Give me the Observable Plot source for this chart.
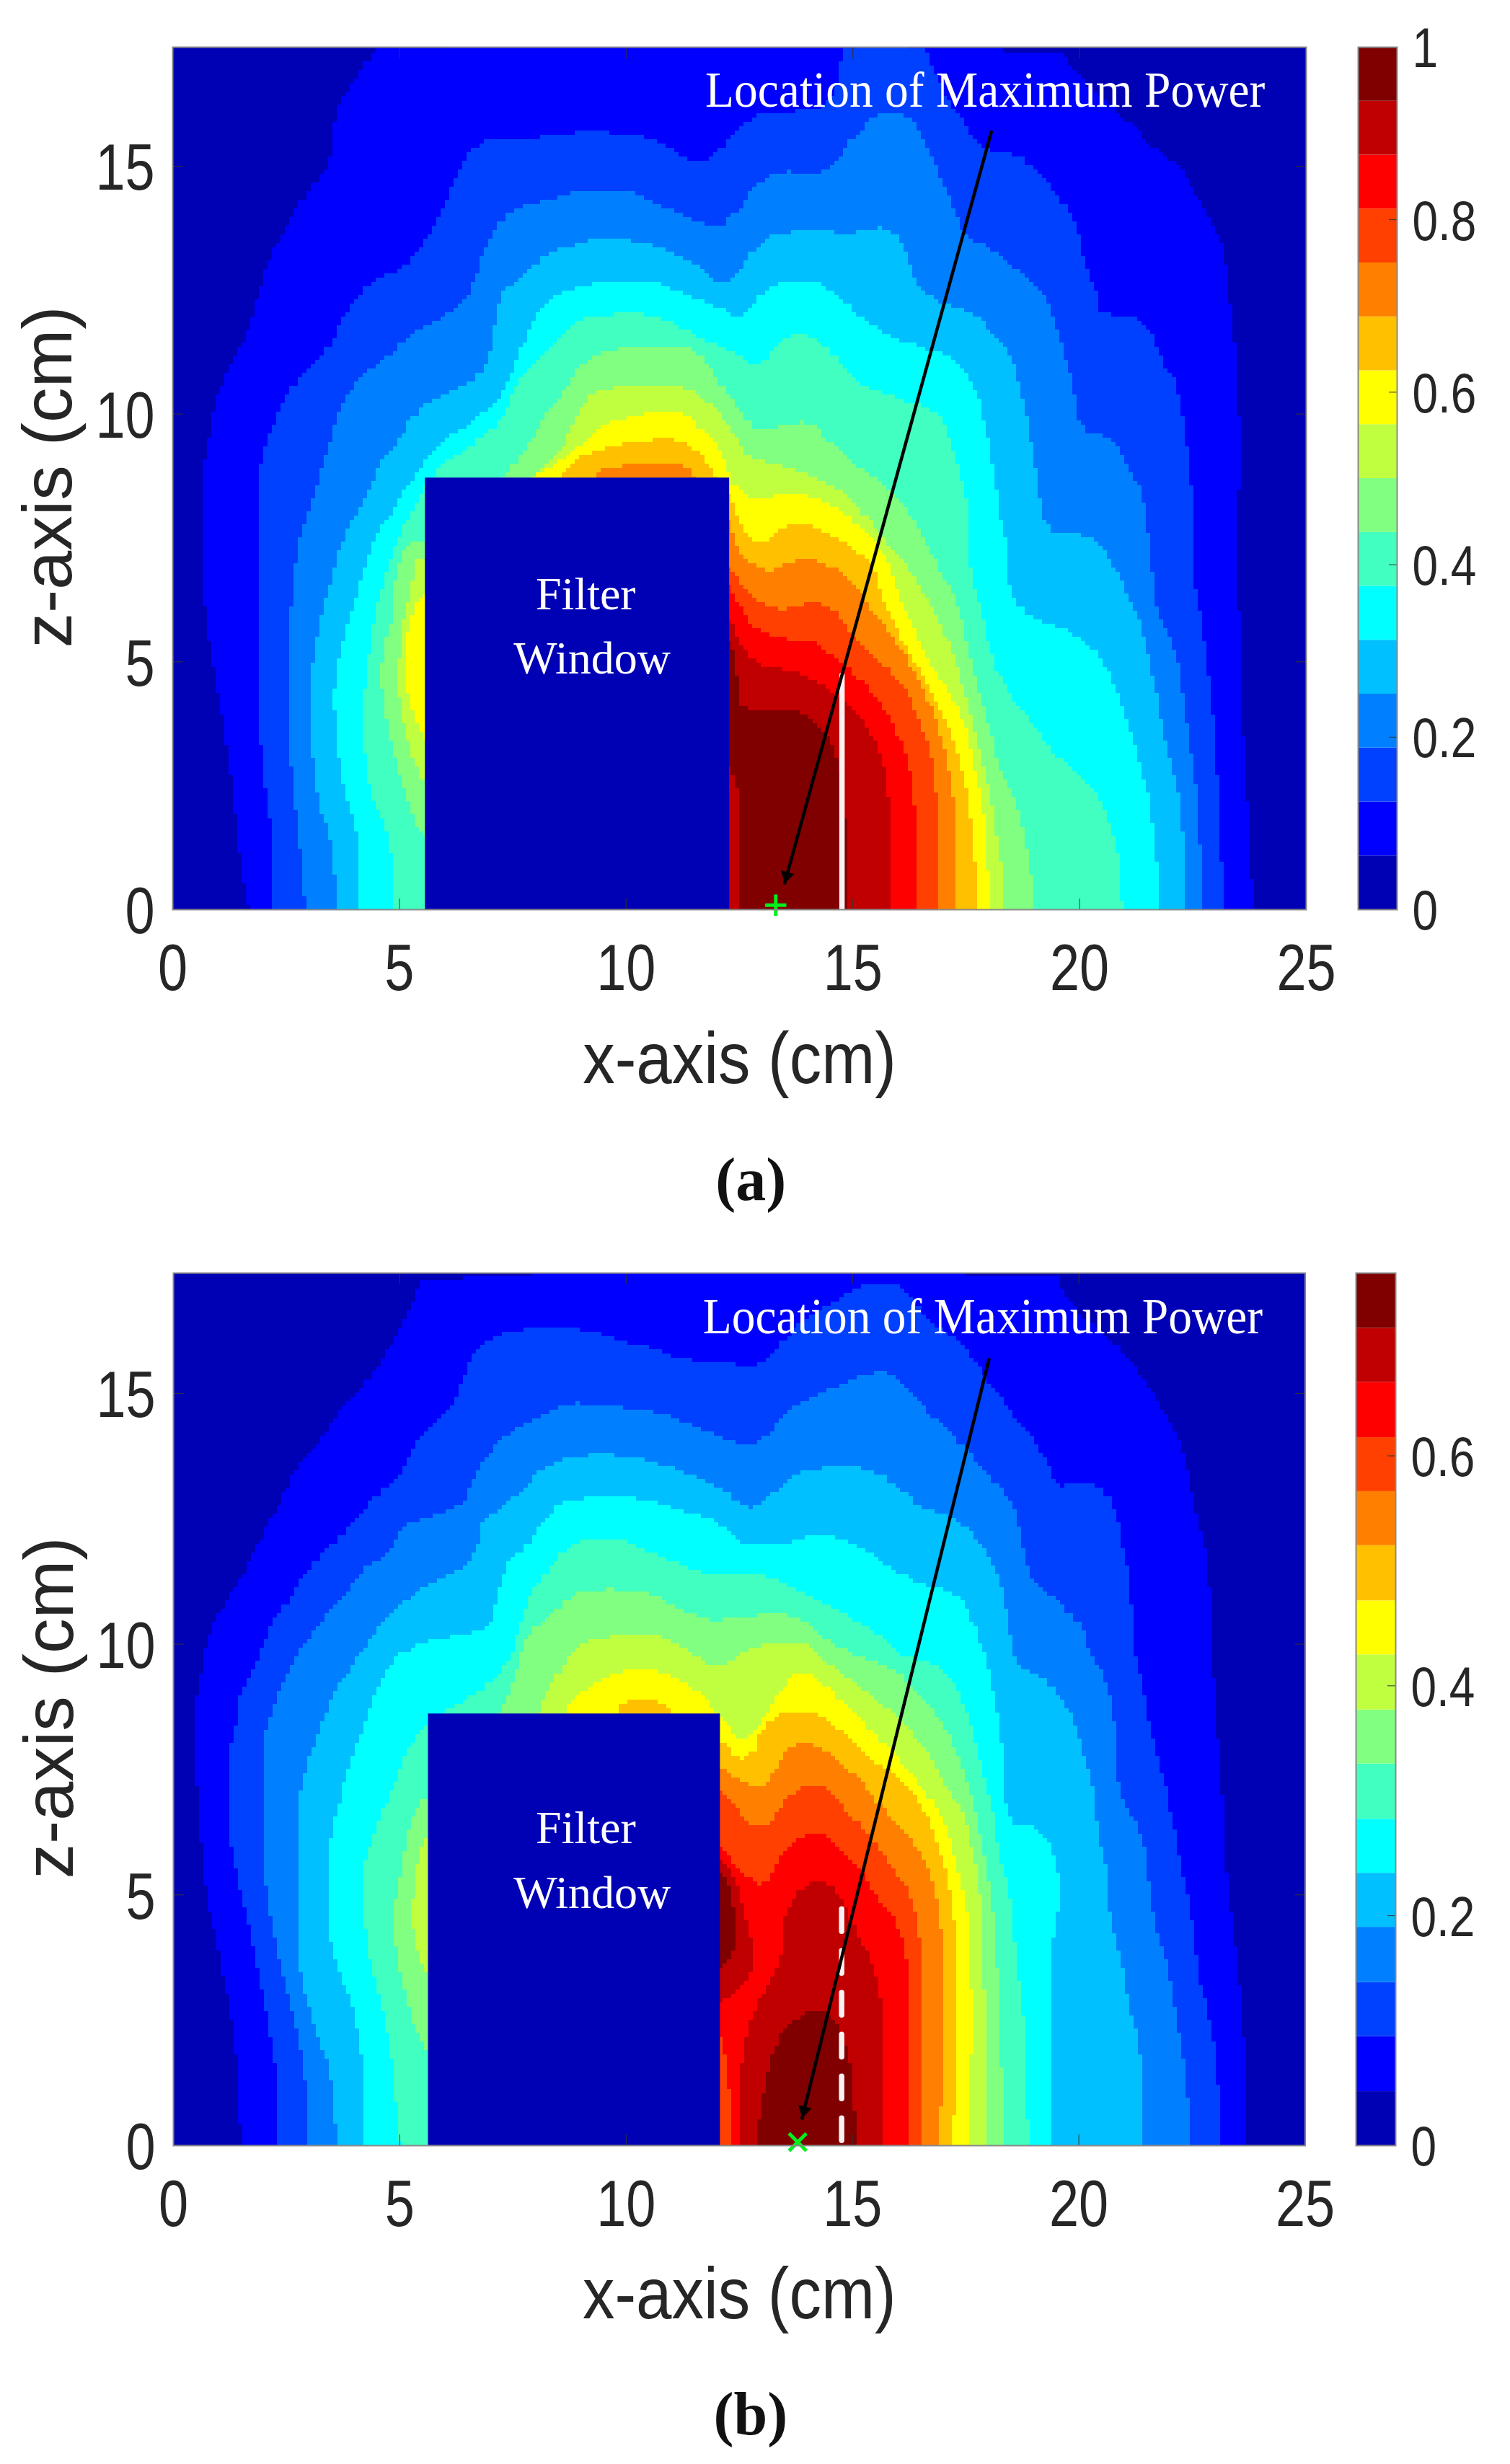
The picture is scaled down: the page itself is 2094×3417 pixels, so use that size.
<!DOCTYPE html>
<html><head><meta charset="utf-8">
<script src="https://cdn.jsdelivr.net/npm/d3@7"></script>
<script src="https://cdn.jsdelivr.net/npm/@observablehq/plot@0.6"></script>
<style>
html,body{margin:0;padding:0;background:#fff}
#page{position:relative;width:2094px;height:3417px;overflow:hidden;background:#fff}
#page svg{position:absolute;max-width:none}
</style></head><body><div id="page"></div>
<script>
const bandColors=["#0000ff","#0040ff","#0080ff","#00c0ff","#00ffff","#40ffc0","#80ff80","#c0ff40","#ffff00","#ffc000","#ff8000","#ff4000","#ff0000","#c00000","#800000"];
const darkBlue="#0000b4";
const xTicks=[0,5,10,15,20,25];
const zTicks=[0,5,10,15];
const barEdgesA=[0,.0625,.125,.1875,.25,.3125,.375,.4375,.5,.5625,.625,.6875,.75,.8125,.875,.9375,1];
const barEdgesB=[0,.047,.095,.142,.19,.237,.284,.332,.379,.427,.474,.522,.569,.616,.664,.711,.759];
const barTicksA=[0,.2,.4,.6,.8,1];
const barTicksB=[0,.2,.4,.6];
const windowA=[5.57,12.28,8.71];
const windowB=[5.63,12.08,8.61];
const arrowA=[18.06,15.71,13.49,.51], headA=[13.54,.68,195.4], slitA=[14.76,4.73], markA=[13.3,.09];
const arrowB=[18.02,15.7,13.88,.52], headB=[13.93,.7,193.8], slitB=[14.76,4.72], markB=[13.79,.07];

// Panel (a): contour outlines [x cm, z cm], one per colour level
const a1=[[1.68,0],[1.52,.65],[1.31,2.6],[.99,4.45],[.72,5.84],[.65,7.24],[.65,8.69],[.76,9.21],[.94,10.18],[1.26,10.92],[1.68,11.66],[1.9,12.4],[2.16,13.15],[2.59,13.89],[2.96,14.41],[3.49,15],[3.6,16.11],[3.97,16.63],[4.4,17.23],[4.72,17.45],[19.54,17.45],[20.09,16.71],[20.98,16.04],[21.76,15.26],[22.26,15],[22.64,14.33],[22.98,13.81],[23.2,13.3],[23.31,12.4],[23.42,11.66],[23.53,10.18],[23.53,8.69],[23.51,8.16],[23.53,4.45],[23.7,2.6],[23.84,0]];
const a2=[[2.19,0],[2.19,1.48],[2.03,2.6],[1.9,3.8],[1.87,5.38],[1.87,8.16],[1.95,9.06],[2.48,10.4],[3.12,10.92],[3.55,11.44],[3.76,11.88],[4.19,12.48],[4.61,12.77],[4.98,12.81],[5.57,13.44],[5.78,13.81],[6.16,14.48],[6.37,15],[6.74,15.45],[7.06,15.53],[7.91,15.56],[8.44,15.61],[9.3,15.71],[9.94,15.63],[10.47,15.6],[11,15.37],[11.43,15.07],[11.8,15.07],[12.39,15.6],[12.88,16.04],[13.54,16.08],[14.54,16.19],[14.71,16.93],[14.82,17.45],[16.6,17.45],[16.82,16.93],[17.09,16.34],[17.32,16.11],[17.7,15.52],[18.09,15.3],[18.65,15.22],[19.09,14.93],[19.43,14.56],[19.65,14.26],[19.87,13.96],[20.04,13.52],[20.15,13],[20.42,12.4],[20.42,12.03],[21.31,11.96],[21.64,11.66],[21.81,11.07],[22.09,10.77],[22.26,10.18],[22.37,9.43],[22.48,8.69],[22.53,6.7],[22.64,6.2],[22.87,4.73],[23.03,3.06],[23.09,1.67],[23.23,0]];
const a3=[[2.93,0],[2.8,1.39],[2.64,2.6],[2.59,3.34],[2.59,5.38],[2.64,6.31],[2.75,7.24],[2.85,7.58],[3.17,8.47],[3.44,9.29],[3.65,9.95],[4.08,10.7],[4.61,11.03],[5.14,11.44],[5.68,11.81],[6.47,12.22],[6.74,12.85],[6.95,13.44],[7.27,13.89],[7.65,14.15],[8.23,14.3],[8.76,14.44],[9.3,14.52],[10.15,14.52],[10.79,14.18],[11.43,13.96],[11.85,13.8],[12.28,13.81],[12.88,14.63],[13.54,14.93],[13.99,14.79],[14.65,14.96],[14.93,15.45],[15.43,15.97],[15.87,16.11],[16.37,15.97],[16.65,15.37],[16.98,14.78],[17.32,13.96],[17.54,13.59],[18.15,13.29],[18.65,12.92],[19.2,12.48],[19.43,12.03],[19.65,11.29],[19.87,10.62],[20.04,9.66],[20.76,9.51],[21.03,9.06],[21.37,8.54],[21.53,7.58],[21.64,6.7],[21.76,5.84],[22.14,5.29],[22.42,3.53],[22.64,2.13],[22.7,0]];
const a4=[[3.62,0],[3.55,1.11],[3.23,2.13],[3.01,3.53],[3.01,4.45],[3.23,5.66],[3.55,6.77],[3.81,7.58],[4.29,8.32],[4.61,8.99],[5.04,9.51],[5.3,9.95],[6,10.4],[6.74,10.7],[7.01,11.1],[7.11,11.74],[7.27,12.48],[7.59,12.63],[8.13,13.11],[8.44,13.29],[9.3,13.53],[10.04,13.52],[10.79,13.37],[11.43,13.07],[11.85,12.85],[12.17,12.55],[12.49,12.81],[12.88,13.37],[13.54,13.7],[14.43,13.66],[15.32,13.66],[15.71,13.78],[16.1,13.52],[16.37,12.7],[16.76,12.33],[17.04,12.22],[17.76,12.03],[18.09,11.59],[18.48,11.29],[18.65,10.7],[18.87,9.95],[19.04,8.84],[19.26,7.58],[20.09,7.58],[20.54,7.36],[20.98,6.59],[21.37,5.75],[21.64,4.73],[21.87,3.53],[22.26,2.13],[22.37,0]];
const a5=[[4.15,0],[4.13,1.39],[3.71,2.6],[3.6,3.71],[3.55,4.45],[3.76,5.38],[4.13,6.49],[4.4,7.33],[4.56,7.58],[5.04,8.32],[5.84,9.36],[6.42,9.69],[7.17,10.18],[7.49,10.77],[7.7,11.29],[8.02,11.96],[8.23,12.18],[8.66,12.48],[9.4,12.63],[9.94,12.7],[10.58,12.69],[11.32,12.4],[12.07,12.18],[12.55,11.88],[12.88,12.26],[13.32,12.63],[13.76,12.7],[14.21,12.69],[14.71,12.4],[15.1,12.03],[15.76,11.59],[16.48,11.36],[17.09,11.2],[17.43,10.92],[17.76,10.47],[17.93,9.81],[18.09,9.06],[18.26,7.95],[18.43,7.36],[18.48,6.21],[19.2,5.84],[19.98,5.52],[20.42,5.19],[20.76,4.64],[20.98,4.08],[21.26,3.25],[21.59,2.13],[21.81,0]];
const a6=[[4.88,0],[4.82,1.39],[4.29,2.41],[4.19,3.99],[4.4,5.57],[4.66,6.59],[4.88,7.24],[5.14,7.79],[5.94,8.99],[6.42,9.21],[7.27,9.81],[7.49,10.33],[7.81,10.84],[8.23,11.22],[8.92,11.88],[9.62,12],[10.58,12.03],[11.11,11.81],[11.74,11.51],[12.49,11.22],[12.88,10.88],[13.32,11.29],[13.54,11.55],[14.1,11.62],[14.49,11.29],[14.87,10.92],[15.21,10.58],[15.87,10.36],[16.37,10.21],[16.87,10.07],[17.15,9.58],[17.43,8.69],[17.59,7.95],[17.59,6.77],[17.87,6.03],[18.09,5.01],[18.54,4.27],[18.98,3.8],[19.65,2.97],[20.31,2.5],[20.65,1.86],[20.92,.93],[20.95,0]];
const a7=[[6,0],[6,1.44],[5.57,1.44],[5.36,1.67],[5.15,2.23],[4.99,2.78],[4.77,3.53],[4.61,4.45],[4.61,5],[4.88,5.94],[4.93,6.86],[5.25,7.42],[5.57,7.42],[6,7.42],[7.2,8.5],[7.33,8.71],[7.49,8.92],[7.91,9.36],[8.23,9.95],[8.66,10.47],[8.98,10.92],[9.72,11.36],[11.32,11.36],[11.74,11.14],[12.1,10.62],[12.65,9.95],[12.88,9.7],[13.32,9.7],[14.1,9.88],[14.43,9.51],[14.99,9.06],[15.43,8.77],[15.87,8.47],[16.32,7.95],[16.76,7.21],[16.87,7.05],[17.32,6.22],[17.54,5.38],[17.76,4.45],[18.09,3.53],[18.2,2.97],[18.65,2.13],[18.93,.93],[19,0]];
const a8=[[6,0],[6,2.5],[5.57,2.5],[5.36,2.88],[5.09,3.71],[4.98,4.45],[5.04,5.57],[5.25,6.31],[5.36,7.05],[5.57,7.05],[6,7.05],[7.9,8.6],[8.18,8.92],[8.6,9.29],[8.76,9.66],[9.24,10.44],[10.04,10.55],[10.89,10.62],[11.43,10.51],[11.85,10.25],[12.17,9.95],[12.43,9.51],[12.77,9.1],[13.54,8.95],[14.04,8.77],[14.43,8.62],[14.87,8.4],[15.32,7.95],[15.76,7.43],[16.43,6.7],[16.76,6.1],[16.98,5.75],[17.32,4.92],[17.65,3.8],[17.87,3.06],[18.09,2.13],[18.32,.74],[18.37,0]];
const a9=[[6,0],[6,3.29],[5.57,3.29],[5.36,3.82],[5.2,4.27],[5.14,5.01],[5.25,5.93],[5.57,6.4],[6,6.4],[7.9,8.6],[7.97,8.71],[8.6,9.03],[9.3,9.58],[9.67,9.84],[10.47,9.99],[11,10.07],[11.43,9.95],[11.74,9.66],[12.07,9.36],[12.27,8.71],[12.77,8.25],[13.21,8.32],[13.54,8.36],[14.04,8.36],[14.54,8.17],[14.99,7.88],[15.37,7.58],[15.76,7.13],[15.93,6.59],[16.32,5.75],[16.65,5.1],[16.98,4.64],[17.32,4.08],[17.54,3.71],[17.65,2.97],[17.87,2.23],[17.98,.93],[18.04,0]];
const a10=[[9,0],[8.55,8.6],[8.55,8.71],[8.87,9.07],[9.72,9.36],[10.47,9.43],[10.95,9.55],[11.43,9.36],[11.8,9.06],[12.01,8.71],[12.2,8.4],[12.32,8.32],[12.54,7.73],[12.77,7.43],[13.21,7.43],[13.54,7.73],[13.99,7.8],[14.54,7.58],[15.1,7.25],[15.49,6.96],[15.65,6.31],[15.98,5.66],[16.37,5.01],[16.76,4.36],[17.09,3.8],[17.32,3.15],[17.54,2.41],[17.7,1.21],[17.76,0]];
const a11=[[10,0],[9.3,8.6],[9.4,8.84],[9.94,8.95],[10.79,9.06],[11.37,8.95],[11.59,8.71],[11.8,8.5],[12.2,7.95],[12.28,7.9],[12.54,7.14],[12.88,6.96],[13.21,6.79],[13.76,7.05],[14.21,7.05],[14.76,6.86],[15.21,6.4],[15.54,5.94],[15.93,5.47],[16.32,4.92],[16.65,4.27],[16.93,3.71],[17.15,2.69],[17.26,2.13],[17.32,0]];
const a12=[[12,0],[12,6.96],[12.28,6.96],[12.54,6.59],[12.93,6.22],[13.43,6.03],[13.99,6.12],[14.15,6.26],[14.65,6.03],[14.93,5.66],[15.37,5.19],[15.76,4.92],[16.21,4.45],[16.48,3.8],[16.71,3.25],[16.87,2.41],[16.87,0]];
const a13=[[12,0],[12,6.59],[12.29,6.59],[12.54,6.12],[12.88,5.66],[13.54,5.43],[14.21,5.43],[14.76,5.01],[15.21,4.64],[15.65,4.17],[16.04,3.53],[16.37,2.6],[16.43,0]];
const a14=[[12,0],[12,5.94],[12.29,5.94],[12.49,5.47],[12.77,5.01],[13.32,4.87],[13.99,4.73],[14.49,4.42],[14.87,4.2],[15.32,3.76],[15.65,3.15],[15.82,2.41],[15.82,0]];
const a15=[[12.54,0],[12.54,2.13],[12.29,2.88],[12.1,2.88],[12.1,5.52],[12.29,5.52],[12.43,5],[12.49,4.27],[12.71,4.01],[13.99,4.01],[14.32,3.71],[14.71,3.06],[14.85,2.13],[14.85,0]];
const panelA=[a1,a2,a3,a4,a5,a6,a7,a8,a9,a10,a11,a12,a13,a14,a15];

// Panel (b)
const b1=[[1.5,0],[1.4,1.92],[1.02,3.78],[.7,5.09],[.54,6.86],[.46,8.07],[.44,8.42],[.6,9.3],[.76,10.11],[1.18,10.84],[1.61,11.43],[2.03,12.23],[2.46,12.97],[2.67,13.41],[3.21,13.92],[3.53,14.43],[4.06,15.02],[4.48,15.39],[4.8,15.9],[5.23,16.63],[5.6,17.45],[19.48,17.45],[19.76,16.85],[20.76,16.05],[21.31,15.53],[21.76,14.8],[22.09,14.36],[22.31,13.92],[22.48,13.19],[22.7,12.23],[22.87,11.72],[22.92,10.26],[23.03,8.79],[23.2,6.82],[23.25,5.46],[23.64,2.76],[23.73,0]];
const b2=[[2.3,0],[2.3,1.36],[2.03,2.76],[1.4,5.46],[1.24,6.11],[1.24,7.76],[1.4,8.42],[1.5,9.01],[1.71,9.38],[1.98,9.89],[2.25,10.48],[2.57,10.84],[2.89,11.35],[3.42,11.87],[3.84,12.23],[4.48,12.97],[5.02,13.26],[5.28,13.92],[5.76,14.36],[6.24,14.73],[6.45,15.39],[6.83,15.97],[7.36,16.19],[7.78,16.28],[9.22,16.28],[9.91,16.03],[10.45,15.97],[10.87,15.79],[11.51,15.64],[12.47,15.57],[13.04,15.57],[13.27,15.83],[13.54,16.08],[14.21,16.63],[14.87,16.93],[15.1,17.11],[15.65,17.22],[16.21,17.11],[16.37,16.82],[16.87,16.34],[17.43,16.05],[17.76,15.61],[18.09,15.17],[18.54,14.65],[18.98,14.14],[19.37,13.55],[19.54,13.11],[20.09,13.26],[20.65,13.04],[20.87,12.53],[20.98,11.94],[21.15,11.35],[21.2,10.03],[21.42,9.15],[21.65,8.05],[21.87,7.47],[22.14,6.21],[22.53,4.53],[22.64,3.41],[22.92,2.57],[23.09,1.36],[23.12,0]];
const b3=[[3,0],[2.94,1.36],[2.57,2.85],[2.19,4.25],[1.98,5.55],[1.98,7.33],[1.98,8.06],[2.25,8.79],[2.57,9.52],[2.99,10.03],[3.42,10.62],[3.84,10.99],[4.27,11.5],[4.86,11.87],[5.02,12.31],[5.65,12.53],[6.4,12.71],[6.67,13.33],[7.09,13.92],[7.47,14.21],[7.89,14.43],[8.74,14.8],[9.7,14.79],[10.02,14.69],[10.98,14.58],[11.51,14.36],[12.15,14.14],[12.65,13.96],[13.15,14.1],[13.43,14.51],[14.1,14.95],[14.87,15.17],[15.43,15.42],[15.82,15.42],[16.37,15.02],[16.76,14.58],[17.32,14.1],[17.65,13.77],[18.15,13.26],[18.54,12.89],[18.76,12.01],[18.98,11.21],[19.54,10.92],[19.87,10.55],[20.09,10.4],[20.26,9.82],[20.54,9.45],[20.76,8.79],[20.87,7.32],[20.98,6.82],[21.42,6.39],[21.65,4.53],[21.98,3.6],[22.14,2.67],[22.37,1.55],[22.5,0]];
const b4=[[3.61,0],[3.52,1.36],[2.99,2.67],[2.73,3.78],[2.73,5.46],[2.78,6.86],[2.89,7.32],[3.15,8.06],[3.53,8.94],[4.06,9.67],[4.48,10.25],[4.91,10.69],[5.55,11.13],[6.45,11.5],[6.72,11.87],[6.83,12.45],[7.47,12.82],[7.89,13.19],[8.21,13.52],[8.96,13.77],[10.02,13.77],[10.98,13.55],[11.62,13.33],[12.1,13.11],[12.54,12.82],[12.82,12.68],[13.1,12.89],[13.43,13.11],[13.88,13.44],[14.54,13.52],[15.32,13.52],[15.76,13.33],[16.26,12.97],[16.48,12.75],[17.32,12.49],[17.76,12.16],[18.15,11.57],[18.37,10.99],[18.48,10.26],[18.65,9.52],[19.2,9.41],[19.54,9.01],[19.87,8.64],[20.09,7.91],[20.31,7.32],[20.37,6.58],[20.65,5.46],[20.7,4.53],[20.98,3.6],[21.15,2.57],[21.37,2.29],[21.37,0]];
const b5=[[4.24,0],[4.16,2.2],[3.52,3.78],[3.42,4.53],[3.42,5.46],[3.52,6.39],[3.68,6.82],[3.84,7.47],[4.27,8.42],[4.7,9.52],[5.23,9.89],[5.87,10.11],[6.77,10.22],[7.09,10.48],[7.15,10.99],[7.47,11.72],[7.89,11.94],[8.21,12.53],[8.85,12.93],[10.39,12.93],[11.19,12.67],[12.15,12.45],[12.54,12.01],[13.21,11.94],[13.88,12.09],[14.32,12.2],[14.87,12.09],[15.43,11.83],[15.87,11.5],[16.54,11.21],[17.21,11.06],[17.54,10.77],[17.76,10.26],[17.98,9.67],[18.15,8.94],[18.32,8.06],[18.37,7.32],[18.37,6.86],[18.65,6.35],[19.09,6.35],[19.54,5.79],[19.56,4.53],[19.37,3.97],[19.37,2.29],[19.43,0]];
const b6=[[5.02,0],[4.96,.52],[4.75,2.29],[4.27,3.88],[4.16,5.46],[4.59,6.58],[4.75,6.82],[5.12,7.76],[5.55,8.35],[6.29,8.79],[7.04,9.19],[7.47,9.67],[7.63,10.26],[7.89,10.99],[8.42,11.57],[8.74,11.94],[9.17,12.1],[9.81,12.1],[10.55,11.87],[11.3,11.57],[11.94,11.35],[12.88,11.35],[13.21,11.36],[13.76,11.1],[14.32,10.88],[14.82,10.62],[15.32,10.37],[15.87,10],[16.15,9.74],[16.76,9.67],[17.26,9.3],[17.48,8.79],[17.76,7.98],[17.93,7.33],[18.09,6.77],[18.26,5.83],[18.48,5.09],[18.65,3.6],[18.81,2.48],[18.87,.8],[18.89,0]];
const b7=[[6,0],[6,1.69],[5.63,1.69],[5.23,2.57],[4.96,3.6],[4.86,4.53],[5.02,5.37],[5.23,6.39],[5.63,7.05],[6,7.05],[7.1,8.5],[7.25,8.6],[7.57,9.3],[7.78,10.11],[8.26,10.48],[8.85,10.99],[9.38,11.1],[10.55,11.06],[11.41,10.62],[11.94,10.44],[12.36,10.51],[12.65,10.55],[13.54,10.62],[14.1,10.4],[14.54,10.03],[15.21,9.74],[15.98,9.52],[16.32,9.15],[16.87,8.64],[17.32,7.91],[17.54,7.33],[17.82,6.39],[17.98,5.46],[18.15,4.53],[18.26,2.67],[18.37,0]];
const b8=[[6,0],[6,3.32],[5.63,3.32],[5.34,3.97],[5.28,4.53],[5.34,5.46],[5.6,6.16],[6,6.16],[8,8.5],[8.05,8.6],[8.32,9.08],[8.85,9.89],[9.38,10.11],[10.55,10.22],[11.41,9.93],[11.83,9.56],[12.26,9.6],[12.77,9.89],[13.32,10.03],[13.99,10.03],[14.43,9.67],[14.87,9.38],[15.43,9.01],[16.1,8.5],[16.65,7.91],[17,7.32],[17.4,6.8],[17.59,6.21],[17.82,5.27],[17.93,3.6],[17.93,0]];
const b9=[[9,0],[8.65,8.5],[8.69,8.6],[8.85,8.94],[9.7,9.38],[10.34,9.52],[10.87,9.45],[11.62,9.08],[12.08,8.62],[12.54,8.06],[12.77,8.09],[13.21,8.72],[13.54,9.23],[13.76,9.41],[14.1,9.45],[14.54,9.08],[14.99,8.72],[15.43,8.28],[15.87,7.91],[16.43,7.32],[16.82,6.82],[17.04,6.49],[17.32,5.65],[17.59,4.53],[17.65,2.67],[17.59,0]];
const b10=[[10,0],[9.86,8.5],[9.86,8.6],[9.91,8.85],[10.93,8.85],[10.98,8.6],[11,8.5],[12,8.1],[12.1,8.1],[12.54,7.69],[12.82,7.76],[12.99,8.28],[13.43,8.61],[13.99,8.68],[14.54,8.46],[14.99,8.13],[15.43,7.69],[15.98,7.42],[16.54,6.86],[16.87,6.11],[17.15,5.27],[17.29,4.25],[17.32,2.67],[17.23,0]];
const b11=[[12,0],[12,7.55],[12.1,7.55],[12.77,7.14],[13.1,7.14],[13.54,7.88],[13.99,8.07],[14.43,7.88],[15.1,7.42],[15.76,6.67],[16.43,6.02],[16.76,5.37],[16.98,4.53],[17.04,2.67],[16.93,0]];
const b12=[[12,0],[12,7.09],[12.1,7.09],[12.54,6.67],[12.82,6.35],[13.15,6.35],[13.54,6.86],[14.1,7.23],[14.49,7.09],[14.87,6.72],[15.43,6.16],[15.93,5.55],[16.37,4.9],[16.52,4.06],[16.5,0]];
const b13=[[12.31,0],[12.31,.8],[12.2,1.73],[12.1,2.2],[12,2.2],[12,6.02],[12.1,6.02],[12.54,5.46],[12.77,5.37],[13.1,5.14],[13.43,5.74],[13.88,6.16],[14.32,6.26],[14.76,5.93],[15.21,5.46],[15.65,4.9],[16.04,4.43],[16.26,3.45],[16.26,0]];
const b14=[[12.54,0],[12.54,1.73],[12.82,2.67],[13.32,3.36],[13.49,4.06],[13.54,4.72],[13.99,5.18],[14.32,5.32],[14.76,5.04],[15.1,4.25],[15.43,3.78],[15.71,2.67],[15.71,0]];
const b14lobe=[[12,2.8],[12.08,2.8],[12.43,2.99],[12.79,3.32],[12.79,4.1],[12.6,4.6],[12.38,5.44],[12.1,5.66],[12,5.66]];
const b15=[[12.88,0],[13.04,.99],[13.21,1.73],[13.49,2.29],[14.21,2.76],[14.6,2.57],[14.87,2.11],[15.04,1.27],[15.07,0]];
const b15lobe=[[12,3.46],[12.1,3.46],[12.38,3.78],[12.43,4.34],[12.32,5.09],[12.1,5.41],[12,5.41]];
const panelB=[b1,b2,b3,b4,b5,b6,b7,b8,b9,b10,b11,b12,b13,b14,b15];

const SANS="'Liberation Sans',Arial,sans-serif";
const SERIF="'Liberation Serif','Times New Roman',serif";
const INK="#262626";
const CELL=6; // the source is a sampled field: its contour edges are stair-stepped

// d3 curve that rounds a polyline once and then draws it on the field's sample grid
function stairCurve(ox,oy){
  const snap=(v,o)=>o+Math.round((v-o)/CELL)*CELL;
  return function(ctx){
    let line=NaN,pts=[];
    return {
      areaStart(){line=0},
      areaEnd(){line=NaN},
      lineStart(){pts=[]},
      point(x,y){pts.push([+x,+y])},
      lineEnd(){
        const distinct=pts.some(p=>p[0]!==pts[0][0]||p[1]!==pts[0][1]);
        if(!distinct){
          if(line)ctx.lineTo(pts[0][0],pts[0][1]);else ctx.moveTo(pts[0][0],pts[0][1]);
        }else{
          const s=[pts[0]];
          for(let i=0;i<pts.length-1;i++){
            const [a,b]=pts[i],[c,d]=pts[i+1];
            s.push([.75*a+.25*c,.75*b+.25*d],[.25*a+.75*c,.25*b+.75*d]);
          }
          s.push(pts[pts.length-1]);
          let lx=snap(s[0][0],ox),ly=snap(s[0][1],oy);
          if(line)ctx.lineTo(lx,ly);else ctx.moveTo(lx,ly);
          for(let i=1;i<s.length;i++){
            const [a,b]=s[i-1],[c,d]=s[i];
            const n=Math.ceil(Math.max(Math.abs(c-a),Math.abs(d-b))/CELL)||1;
            for(let k=1;k<=n;k++){
              const sx=snap(a+(c-a)*k/n,ox),sy=snap(b+(d-b)*k/n,oy);
              if(sx!==lx||sy!==ly){ctx.lineTo(sx,ly);ctx.lineTo(sx,sy);lx=sx;ly=sy;}
            }
          }
        }
        if(line)ctx.closePath();
        line=1-line;
      }
    };
  };
}
function outline(pts,fill,curve){
  return Plot.area(pts,{x1:d=>d[0],y1:d=>d[1],x2:()=>pts[0][0],y2:()=>pts[0][1],fill,curve,clip:true});
}
function label(text,x,z,o){
  return Plot.text([text],{x:()=>x,y:()=>z,text:d=>d,lineAnchor:"bottom",...o});
}
function panel(cfg){
  const win=cfg.window;
  const h=cfg.bottom-cfg.top;
  const curve=stairCurve(cfg.left,h);
  const svg=Plot.plot({
    width:1860,height:cfg.height,
    marginLeft:cfg.left,marginRight:1860-cfg.right,marginTop:65,marginBottom:cfg.height-h,
    x:{domain:[0,25],axis:null},y:{domain:[0,17.4],axis:null},
    style:{background:"transparent",overflow:"visible"},
    marks:[
      Plot.frame({fill:darkBlue,stroke:null}),
      ...cfg.levels.map((p,i)=>outline(p,bandColors[i],curve)),
      ...cfg.lobes.map(([p,i])=>outline(p,bandColors[i],curve)),
      Plot.rect([win],{x1:d=>d[0],x2:d=>d[1],y1:()=>0,y2:d=>d[2],fill:darkBlue}),
      Plot.line([[cfg.slit[0],cfg.slit[1]],[cfg.slit[0],0]],{x:d=>d[0],y:d=>d[1],stroke:"#fff",strokeWidth:7.5,strokeDasharray:cfg.dash,strokeOpacity:.95}),
      Plot.link([cfg.arrow],{x1:d=>d[0],y1:d=>d[1],x2:d=>d[2],y2:d=>d[3],stroke:"#000",strokeWidth:4.5}),
      Plot.dot([cfg.head],{x:d=>d[0],y:d=>d[1],symbol:"triangle2",r:9,fill:"#000",stroke:null,rotate:d=>d[2]}),
      Plot.dot([cfg.mark],{x:d=>d[0],y:d=>d[1],symbol:cfg.symbol,r:cfg.markR,stroke:"#00f01c",strokeWidth:5}),
      label("Location of Maximum Power",cfg.titleX,16.2,{textAnchor:"end",fontFamily:SERIF,fontSize:70,fill:"#fff"}),
      label("Filter",9.11,cfg.filterZ,{fontFamily:SERIF,fontSize:64,fill:"#fff"}),
      label("Window",9.25,cfg.filterZ-1.29,{fontFamily:SERIF,fontSize:64,fill:"#fff"}),
      Plot.axisX({ticks:xTicks,anchor:"bottom",tickSize:-15,stroke:"#333",strokeWidth:1,text:null,label:null}),
      Plot.axisX({ticks:xTicks,anchor:"top",tickSize:-15,stroke:"#333",strokeWidth:1,text:null,label:null}),
      Plot.axisY({ticks:zTicks,anchor:"left",tickSize:-15,stroke:"#333",strokeWidth:1,text:null,label:null}),
      Plot.axisY({ticks:zTicks,anchor:"right",tickSize:-15,stroke:"#333",strokeWidth:1,text:null,label:null}),
      Plot.frame({stroke:"#8a8a8a",strokeWidth:2}),
      Plot.axisX({ticks:xTicks,anchor:"bottom",tickSize:0,tickPadding:48,tickFormat:d=>String(d),label:null,fontFamily:SANS,fontSize:90,fill:INK}),
      Plot.axisY({ticks:zTicks,anchor:"left",tickSize:0,tickPadding:25,tickFormat:d=>String(d),label:null,fontFamily:SANS,fontSize:90,fill:INK,dy:4}),
      label("x-axis (cm)",12.5,cfg.xLabelZ,{fontFamily:SANS,fontSize:100,fill:INK}),
      label("z-axis (cm)",-2.23,8.73,{rotate:-90,fontFamily:SANS,fontSize:97,fill:INK}),
      label(cfg.caption,12.75,cfg.captionZ,{fontFamily:SERIF,fontWeight:"bold",fontSize:84,fill:"#111"})
    ]
  });
  svg.style.left="0px";svg.style.top=cfg.top+"px";
  return svg;
}
function colorbar(cfg){
  const e=cfg.edges;
  const bands=e.slice(0,-1).map((lo,i)=>({lo,hi:e[i+1],fill:i===0?darkBlue:bandColors[i-1]}));
  const svg=Plot.plot({
    width:280,height:cfg.height,
    marginLeft:60,marginRight:280-60-(cfg.x2-cfg.x1),marginTop:65,marginBottom:cfg.height-(cfg.bottom-cfg.top),
    x:{domain:[0,1],axis:null},y:{domain:[0,e[e.length-1]],axis:null},
    color:{type:"identity"},
    style:{background:"transparent",overflow:"visible"},
    marks:[
      Plot.rect(bands,{x1:()=>0,x2:()=>1,y1:"lo",y2:"hi",fill:"fill"}),
      Plot.axisY({ticks:cfg.ticks,anchor:"right",tickSize:-12,stroke:"#333",strokeWidth:1,text:null,label:null}),
      Plot.frame({stroke:"#8a8a8a",strokeWidth:2}),
      Plot.axisY({ticks:cfg.ticks,anchor:"right",tickSize:0,tickPadding:21,tickFormat:d=>String(d),label:null,fontFamily:SANS,fontSize:78,fill:INK,dy:3})
    ]
  });
  svg.style.left=(cfg.x1-60)+"px";svg.style.top=cfg.top+"px";
  return svg;
}
const page=document.getElementById("page");
page.append(
  panel({levels:panelA,lobes:[],window:windowA,top:0,bottom:1261,height:1700,left:239,right:1811,slit:slitA,dash:null,arrow:arrowA,head:headA,mark:markA,symbol:"plus",markR:9.5,titleX:24.09,filterZ:6.06,xLabelZ:-3.5,caption:"(a)",captionZ:-5.85}),
  colorbar({edges:barEdgesA,ticks:barTicksA,x1:1883,x2:1937,top:0,bottom:1261,height:1700}),
  panel({levels:panelB,lobes:[[b14lobe,13],[b15lobe,14]],window:windowB,top:1700,bottom:2975,height:1717,left:240,right:1809.5,slit:slitB,dash:"31,27",arrow:arrowB,head:headB,mark:markB,symbol:"times",markR:11,titleX:24.06,filterZ:6.03,xLabelZ:-3.45,caption:"(b)",captionZ:-5.76}),
  colorbar({edges:barEdgesB,ticks:barTicksB,x1:1880,x2:1935,top:1700,bottom:2975,height:1717})
);
// The reference's sans text is horizontally condensed: fit each real text run to its width.
for(const t of page.querySelectorAll("text")){
  const s=t.textContent;
  const k=/^[\d.]+$/.test(s)?.82:s==="x-axis (cm)"?.889:s.startsWith("Location")?.935:null;
  if(k){
    t.setAttribute("textLength",(t.getComputedTextLength()*k).toFixed(1));
    t.setAttribute("lengthAdjust","spacingAndGlyphs");
  }
}
</script></body></html>
